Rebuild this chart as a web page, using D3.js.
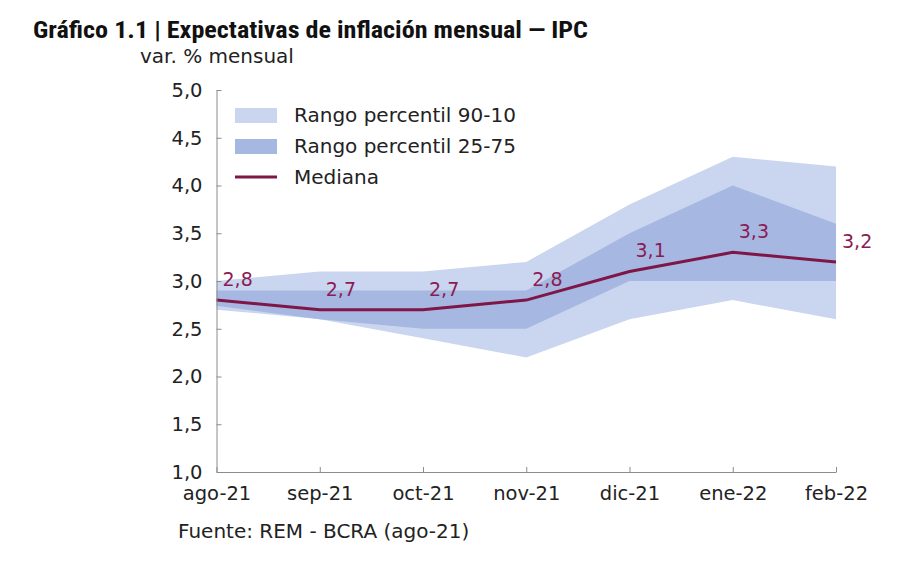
<!DOCTYPE html>
<html>
<head>
<meta charset="utf-8">
<script src="https://cdn.jsdelivr.net/npm/d3@7"></script>
<style>
  body { margin: 0; background: #fff; }
  svg { display: block; }
  .axis path, .axis line { stroke: #8c8c8c; }
  .axis text { font-family: "DejaVu Sans", sans-serif; font-size: 19.5px; fill: #222; }
</style>
</head>
<body>
<div id="chart"></div>
<script>
// data
const months = ["ago-21", "sep-21", "oct-21", "nov-21", "dic-21", "ene-22", "feb-22"];
const p10 = [2.7, 2.6, 2.4, 2.2, 2.6, 2.8, 2.6];
const p90 = [3.0, 3.1, 3.1, 3.2, 3.8, 4.3, 4.2];
const p25 = [2.74, 2.6, 2.5, 2.5, 3.0, 3.0, 3.0];
const p75 = [2.9, 2.9, 2.9, 2.9, 3.5, 4.0, 3.6];
const mediana = [2.8, 2.7, 2.7, 2.8, 3.1, 3.3, 3.2];
const yTicks = [1.0, 1.5, 2.0, 2.5, 3.0, 3.5, 4.0, 4.5, 5.0];

var width = 900;
var height = 575;

const lightBlue = "#cad6ef";
const darkBlue = "#a6b7e1";
const lineColor = "#7e1747";
const labelColor = "#8a1c55";

const fmt = v => d3.format(".1f")(v).replace(".", ",");

const svg = d3.select("#chart").append("svg")
  .attr("width", width)
  .attr("height", height);

svg.append("rect").attr("width", width).attr("height", height).attr("fill", "#fff");

const x = d3.scalePoint().domain(months).range([216.5, 836]);
const y = d3.scaleLinear().domain([1, 5]).range([472, 90]);

const rows = months.map((m, i) => ({
  m, p10: p10[i], p90: p90[i], p25: p25[i], p75: p75[i], med: mediana[i]
}));

// bands
const area = (lo, hi) => d3.area()
  .x(d => x(d.m))
  .y0(d => y(d[lo]))
  .y1(d => y(d[hi]));

svg.append("path").datum(rows)
  .attr("fill", lightBlue)
  .attr("d", area("p10", "p90"));

svg.append("path").datum(rows)
  .attr("fill", darkBlue)
  .attr("d", area("p25", "p75"));

// median line
svg.append("path").datum(rows)
  .attr("fill", "none")
  .attr("stroke", lineColor)
  .attr("stroke-width", 3)
  .attr("d", d3.line().x(d => x(d.m)).y(d => y(d.med)));

// value labels
svg.append("g").selectAll("text")
  .data(rows)
  .join("text")
  .attr("x", d => x(d.m) + 6)
  .attr("y", d => y(d.med) - 14)
  .attr("font-family", "DejaVu Sans, sans-serif")
  .attr("font-size", 19)
  .attr("fill", labelColor)
  .text(d => fmt(d.med));

// axes
svg.append("g")
  .attr("class", "axis")
  .attr("transform", `translate(0,${y(1)})`)
  .call(d3.axisBottom(x).tickSize(-5).tickSizeOuter(0).tickPadding(14));

svg.append("g")
  .attr("class", "axis")
  .attr("transform", `translate(${x(months[0])},0)`)
  .call(d3.axisLeft(y).tickValues(yTicks).tickFormat(fmt).tickSize(-5).tickSizeOuter(0).tickPadding(14));

// legend
const legend = svg.append("g").attr("font-family", "DejaVu Sans, sans-serif").attr("font-size", 20).attr("fill", "#222");
const legendItems = [
  { label: "Rango percentil 90-10", type: "rect", color: lightBlue },
  { label: "Rango percentil 25-75", type: "rect", color: darkBlue },
  { label: "Mediana", type: "line", color: lineColor }
];
legendItems.forEach((it, i) => {
  const cy = 115 + i * 31;
  if (it.type === "rect") {
    legend.append("rect").attr("x", 235).attr("y", cy - 7).attr("width", 42).attr("height", 15).attr("fill", it.color);
  } else {
    legend.append("line").attr("x1", 235).attr("x2", 277).attr("y1", cy).attr("y2", cy)
      .attr("stroke", it.color).attr("stroke-width", 3);
  }
  legend.append("text").attr("x", 294).attr("y", cy).attr("dy", "0.35em").text(it.label);
});

// titles
svg.append("text")
  .attr("x", 33).attr("y", 38)
  .attr("font-family", "'Roboto Condensed', 'Liberation Sans Narrow', Roboto, sans-serif")
  .attr("font-weight", "bold")
  .attr("font-size", 23)
  .attr("fill", "#111")
  .attr("textLength", 555)
  .attr("lengthAdjust", "spacingAndGlyphs")
  .text("Gráfico 1.1 | Expectativas de inflación mensual — IPC");

svg.append("text")
  .attr("x", 140).attr("y", 63)
  .attr("font-family", "DejaVu Sans, sans-serif")
  .attr("font-size", 20)
  .attr("fill", "#222")
  .text("var. % mensual");

svg.append("text")
  .attr("x", 178).attr("y", 538)
  .attr("font-family", "DejaVu Sans, sans-serif")
  .attr("font-size", 20)
  .attr("fill", "#222")
  .text("Fuente: REM - BCRA (ago-21)");
</script>
</body>
</html>
